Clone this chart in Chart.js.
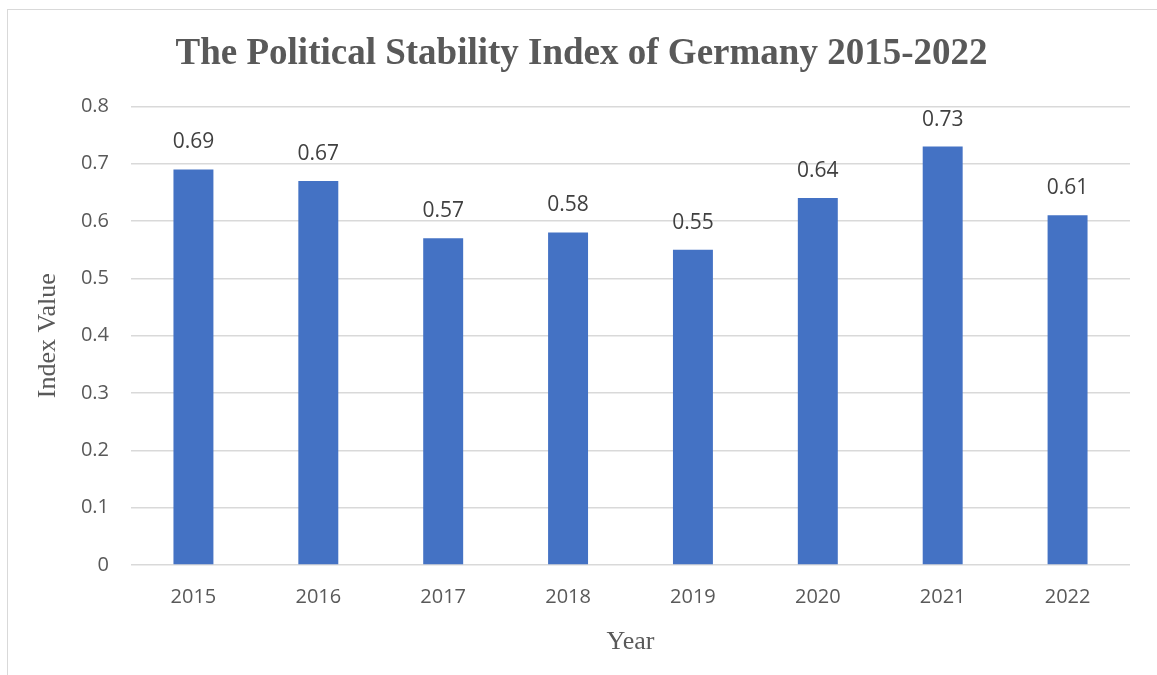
<!DOCTYPE html>
<html>
<head>
<meta charset="utf-8">
<script src="https://cdn.jsdelivr.net/npm/chart.js@4"></script>
<style>
  body { margin: 0; background: #fff; overflow: hidden; }
  #wrap { position: relative; width: 1157px; height: 675px; overflow: hidden; }
  #frame { position: absolute; left: 7px; top: 9px; width: 1300px; height: 800px; border: 1px solid #d9d9d9; }
  canvas { position: absolute; left: 0; top: 0; }
</style>
</head>
<body>
<div id="wrap">
  <div id="frame"></div>
  <canvas id="myChart" width="1157" height="675"></canvas>
</div>
<script>
const years = ['2015', '2016', '2017', '2018', '2019', '2020', '2021', '2022'];
const indexValues = [0.69, 0.67, 0.57, 0.58, 0.55, 0.64, 0.73, 0.61];
const yTicks = [0, 0.1, 0.2, 0.3, 0.4, 0.5, 0.6, 0.7, 0.8];

// simple value labels above each bar
const barLabels = {
    id: 'barLabels',
    afterDatasetsDraw(chart) {
        const ctx = chart.ctx;
        const meta = chart.getDatasetMeta(0);
        ctx.save();
        ctx.font = '21px "Open Sans"';
        ctx.fillStyle = '#404040';
        ctx.textAlign = 'center';
        ctx.textBaseline = 'middle';
        meta.data.forEach((bar, i) => {
            ctx.fillText(indexValues[i].toFixed(2), bar.x, bar.y - 27);
        });
        ctx.restore();
    }
};

const ctx = document.getElementById('myChart').getContext('2d');
new Chart(ctx, {
    type: 'bar',
    data: {
        labels: years,
        datasets: [{
            data: indexValues,
            backgroundColor: '#4472C4',
            borderWidth: 0,
            categoryPercentage: 1,
            barPercentage: 0.32
        }]
    },
    options: {
        responsive: false,
        animation: false,
        layout: { padding: { left: 33, right: 27, top: 0, bottom: 17 } },
        plugins: {
            legend: { display: false },
            tooltip: { enabled: false },
            title: {
                display: true,
                text: 'The Political Stability Index of Germany 2015-2022',
                color: '#595959',
                font: { family: '"Liberation Serif"', size: 37, weight: 'bold' },
                padding: { top: 32, bottom: 30 }
            }
        },
        scales: {
            x: {
                afterFit(axis) { axis.height = 93; },
                grid: { display: false, drawTicks: false },
                border: { display: false },
                ticks: { color: '#595959', font: { family: '"Open Sans"', size: 20 }, padding: 20 },
                title: {
                    display: true, text: 'Year', color: '#595959',
                    font: { family: '"Liberation Serif"', size: 26 },
                    padding: { top: 0, bottom: 0 }
                }
            },
            y: {
                min: 0, max: 0.8,
                afterBuildTicks(axis) { axis.ticks = yTicks.map(v => ({ value: v })); },
                afterFit(axis) { axis.width = 98; },
                grid: { color: '#d9d9d9', lineWidth: 1.5, drawTicks: false },
                border: { display: false },
                ticks: { color: '#595959', font: { family: '"Open Sans"', size: 20 }, padding: 22,
                    callback: v => String(Math.round(v * 10) / 10) },
                title: {
                    display: true, text: 'Index Value', color: '#595959',
                    font: { family: '"Liberation Serif"', size: 26 },
                    padding: { top: 0, bottom: 0 }
                }
            }
        }
    },
    plugins: [barLabels]
});
</script>
</body>
</html>
